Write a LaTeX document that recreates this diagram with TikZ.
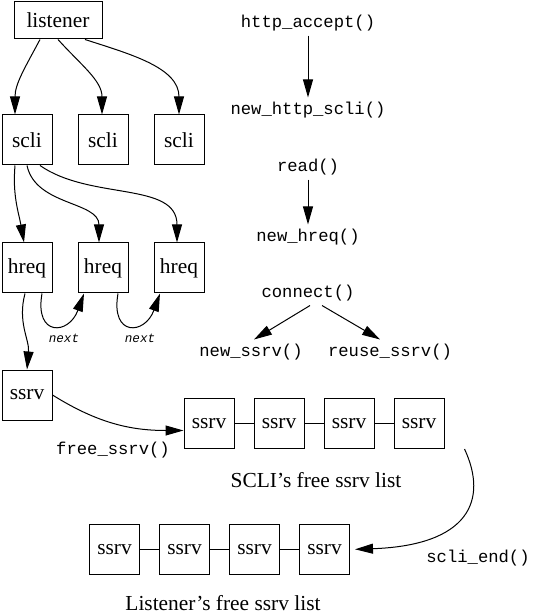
\documentclass[tikz,border=0pt]{standalone}
\usepackage{fontspec}
\setmainfont{Liberation Serif}
\setmonofont{Liberation Mono}
\usetikzlibrary{positioning, arrows.meta, calc}

\begin{document}
\begin{tikzpicture}[
    x=0.5pt, y=0.5pt,
    >={Triangle[length=9pt, width=5pt]},
    line width=0.5pt,
    objbox/.style={rectangle, draw, minimum width=25pt, minimum height=25pt,
        inner sep=0pt, font=\fontsize{10.7}{12}\selectfont},
    fncall/.style={font=\fontsize{8.6}{10}\selectfont\ttfamily, inner sep=2pt},
    nextlbl/.style={font=\fontsize{6.3}{7}\selectfont\ttfamily\itshape, inner sep=1pt},
    listlbl/.style={font=\fontsize{10.7}{12}\selectfont},
]

\useasboundingbox (0,0) rectangle (540,-613);

% ══════════════════════════════════════════════
% Listener and its client connections
% ══════════════════════════════════════════════
\node[objbox, minimum width=44pt, minimum height=18.5pt] (listener) at (58,-20.5) {listener};

\node[objbox] (scli1) at (27,-140) {scli};
\node[objbox, right=12.5pt of scli1] (scli2) {scli};
\node[objbox, right=12.5pt of scli2] (scli3) {scli};

\draw[->] ([xshift=-9pt]listener.south) to[out=-118, in=90] ([xshift=-6pt]scli1.north);
\draw[->] (listener.south) to[out=-48, in=90] ([xshift=-0.5pt]scli2.north);
\draw[->] ([xshift=13.5pt]listener.south) to[out=-18, in=90] (scli3.north);

% ══════════════════════════════════════════════
% Requests of the first client
% ══════════════════════════════════════════════
\node[objbox, below=38.5pt of scli1] (hreq1) {hreq};
\node[objbox, right=12.5pt of hreq1] (hreq2) {hreq};
\node[objbox, right=12.5pt of hreq2] (hreq3) {hreq};

\draw[->] ([xshift=-6pt]scli1.south) to[out=-95, in=100] ([xshift=-1.5pt]hreq1.north);
\draw[->] (scli1.south) to[out=-78, in=90] ([xshift=-2pt]hreq2.north);
\draw[->] ([xshift=6.5pt]scli1.south) to[out=-35, in=90] ([xshift=-1pt]hreq3.north);

% next links
\draw[->] ([xshift=7.5pt]hreq1.south) to[out=-100, in=-110, looseness=2.7] ([xshift=-9.5pt]hreq2.south);
\draw[->] ([xshift=7.5pt]hreq2.south) to[out=-100, in=-110, looseness=2.7] ([xshift=-9.5pt]hreq3.south);
\node[nextlbl] (next1) at (64,-338) {next};
\node[nextlbl] (next2) at (140,-338) {next};

% ══════════════════════════════════════════════
% Server connection and the free lists
% ══════════════════════════════════════════════
\node[objbox, below=38pt of hreq1] (ssrv) {ssrv};
\draw[->] ([xshift=-1pt]hreq1.south) to[out=-105, in=85] (ssrv.north);

\node[objbox] (sfree1) at (209,-423.5) {ssrv};
\node[objbox, right=9.5pt of sfree1] (sfree2) {ssrv};
\node[objbox, right=9.5pt of sfree2] (sfree3) {ssrv};
\node[objbox, right=9.5pt of sfree3] (sfree4) {ssrv};
\draw (sfree1) -- (sfree2);
\draw (sfree2) -- (sfree3);
\draw (sfree3) -- (sfree4);
\node[listlbl] (sfreelbl) at (316,-480) {SCLI's free ssrv list};

\draw[->] (ssrv.east) to[out=-32, in=180] ([yshift=-3.5pt]sfree1.west);
\node[fncall] (freessrv) at (113,-450) {free\_ssrv()};

\node[objbox] (lfree1) at (114.5,-549.5) {ssrv};
\node[objbox, right=9.5pt of lfree1] (lfree2) {ssrv};
\node[objbox, right=9.5pt of lfree2] (lfree3) {ssrv};
\node[objbox, right=9.5pt of lfree3] (lfree4) {ssrv};
\draw (lfree1) -- (lfree2);
\draw (lfree2) -- (lfree3);
\draw (lfree3) -- (lfree4);
\node[listlbl] (lfreelbl) at (223,-603) {Listener's free ssrv list};

\draw[->, shorten >=2.5pt] ([xshift=10pt]sfree4.south east)
    to[out=-65, in=2, out looseness=0.95, in looseness=2] (lfree4.east);
\node[fncall] (scliend) at (478,-558) {scli\_end()};

% ══════════════════════════════════════════════
% Call sequence (right side)
% ══════════════════════════════════════════════
\node[fncall] (fnaccept) at (308,-23) {http\_accept()};
\node[fncall] (fnnewscli) at (308,-110) {new\_http\_scli()};
\node[fncall] (fnread) at (308,-167) {read()};
\node[fncall] (fnnewhreq) at (308,-237) {new\_hreq()};
\node[fncall] (fnconnect) at (308,-293) {connect()};
\node[fncall] (fnnewssrv) at (251,-352) {new\_ssrv()};
\node[fncall] (fnreuse) at (390,-352) {reuse\_ssrv()};

\draw[->] (fnaccept) -- (fnnewscli);
\draw[->] (fnread) -- (fnnewhreq);
\draw[->] ([xshift=1pt]fnconnect.south) -- ([xshift=1.5pt]fnnewssrv.north);
\draw[->] ([xshift=7pt]fnconnect.south) -- ([xshift=-5pt]fnreuse.north);

\end{tikzpicture}
\end{document}
